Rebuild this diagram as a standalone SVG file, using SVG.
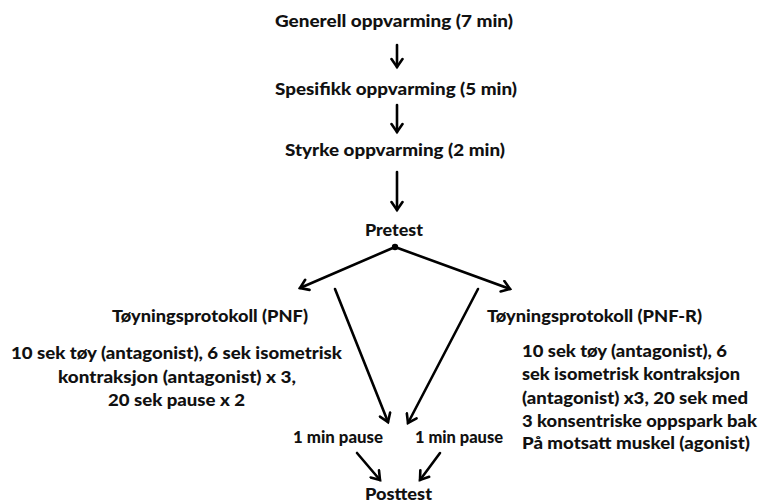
<svg xmlns="http://www.w3.org/2000/svg" width="759" height="504" viewBox="0 0 759 504">
  <style>
    text { font-family: "Lato", "Liberation Sans", sans-serif; font-weight: 900; font-size: 16.5px; fill: #111; }
    .c { stroke: #000; stroke-width: 2.6; fill: none; stroke-linecap: round; }
  </style>
  <defs>
    <marker id="ah" viewBox="0 0 14 14" refX="10" refY="7" markerWidth="14" markerHeight="14" markerUnits="userSpaceOnUse" orient="auto">
      <path d="M2,1.5 L10,7 L2,12.5" fill="none" stroke="#000" stroke-width="2.6" stroke-linecap="round" stroke-linejoin="miter"/>
    </marker>
  </defs>
  <rect width="759" height="504" fill="#fff"/>

  <g id="n-generell"><text x="275" y="27" textLength="238" lengthAdjust="spacingAndGlyphs">Generell oppvarming (7 min)</text></g>
  <g id="n-spesifikk"><text x="275" y="95" textLength="242" lengthAdjust="spacingAndGlyphs">Spesifikk oppvarming (5 min)</text></g>
  <g id="n-styrke"><text x="285" y="156" textLength="220" lengthAdjust="spacingAndGlyphs">Styrke oppvarming (2 min)</text></g>
  <g id="n-pretest">
    <text x="365" y="236" textLength="58" lengthAdjust="spacingAndGlyphs">Pretest</text>
    <circle cx="395" cy="247" r="3.2" fill="#000"/>
  </g>
  <g id="n-pnf">
    <text x="112" y="322" textLength="196" lengthAdjust="spacingAndGlyphs">Tøyningsprotokoll (PNF)</text>
    <text x="11" y="359" textLength="331" lengthAdjust="spacingAndGlyphs">10 sek tøy (antagonist), 6 sek isometrisk</text>
    <text x="58" y="383" textLength="238" lengthAdjust="spacingAndGlyphs">kontraksjon (antagonist) x 3,</text>
    <text x="108" y="406" textLength="137" lengthAdjust="spacingAndGlyphs">20 sek pause x 2</text>
  </g>
  <g id="n-pnfr">
    <text x="487" y="322" textLength="215" lengthAdjust="spacingAndGlyphs">Tøyningsprotokoll (PNF-R)</text>
    <text x="522" y="357" textLength="205" lengthAdjust="spacingAndGlyphs">10 sek tøy (antagonist), 6</text>
    <text x="522" y="380" textLength="218" lengthAdjust="spacingAndGlyphs">sek isometrisk kontraksjon</text>
    <text x="522" y="404" textLength="226" lengthAdjust="spacingAndGlyphs">(antagonist) x3, 20 sek med</text>
    <text x="522" y="427" textLength="235" lengthAdjust="spacingAndGlyphs">3 konsentriske oppspark  bak</text>
    <text x="522" y="449" textLength="228" lengthAdjust="spacingAndGlyphs">På motsatt muskel (agonist)</text>
  </g>
  <g id="n-pause1"><text x="293" y="443" textLength="90" lengthAdjust="spacingAndGlyphs">1 min pause</text></g>
  <g id="n-pause2"><text x="415" y="443" textLength="88" lengthAdjust="spacingAndGlyphs">1 min pause</text></g>
  <g id="n-posttest"><text x="365" y="500" textLength="67" lengthAdjust="spacingAndGlyphs">Posttest</text></g>

  <g id="connectors">
    <line class="c" x1="397" y1="45" x2="397" y2="67" marker-end="url(#ah)"/>
    <line class="c" x1="397" y1="105" x2="397" y2="132" marker-end="url(#ah)"/>
    <line class="c" x1="397" y1="172" x2="397" y2="210" marker-end="url(#ah)"/>
    <line class="c" x1="395" y1="247" x2="300" y2="288" marker-end="url(#ah)"/>
    <line class="c" x1="395" y1="247" x2="510" y2="289" marker-end="url(#ah)"/>
    <line class="c" x1="335" y1="289" x2="388" y2="422" marker-end="url(#ah)"/>
    <line class="c" x1="478" y1="289" x2="408" y2="423" marker-end="url(#ah)"/>
    <line class="c" x1="357" y1="453" x2="380" y2="480" marker-end="url(#ah)"/>
    <line class="c" x1="440" y1="453" x2="420" y2="480" marker-end="url(#ah)"/>
  </g>
</svg>
